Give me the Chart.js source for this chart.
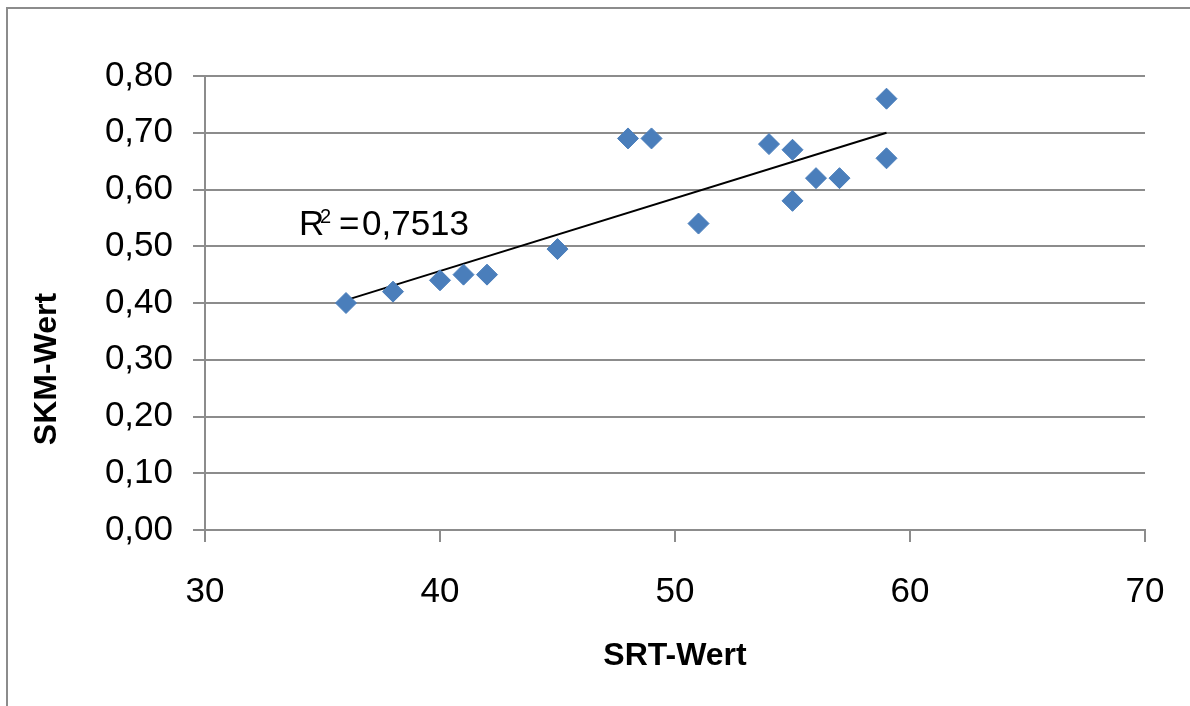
<!DOCTYPE html>
<html>
<head>
<meta charset="utf-8">
<title>SKM-Wert / SRT-Wert</title>
<script src="https://cdn.jsdelivr.net/npm/chart.js"></script>
<style>
    html, body {
        margin: 0;
        padding: 0;
        background: #fff;
        overflow: hidden;
    }
    .frame {
        position: absolute;
        left: 6px;
        top: 7px;
        width: 1400px;
        height: 900px;
        border: 2px solid #8c8c8c;
    }
    .chart-box {
        position: absolute;
        left: 0;
        top: 0;
        width: 1190px;
        height: 706px;
    }
</style>
</head>
<body>
<div class="frame"></div>
<div class="chart-box">
    <canvas id="scatterChart" width="1190" height="706"></canvas>
</div>
<script>
    // Messwerte
    const srtWerte = [36, 38, 40, 41, 42, 45, 48, 49, 51, 54, 55, 55, 56, 57, 59, 59];
    const skmWerte = [0.40, 0.42, 0.44, 0.45, 0.45, 0.495, 0.69, 0.69, 0.54, 0.68, 0.67, 0.58, 0.62, 0.62, 0.76, 0.655];

    // Trendlinie (Endpunkte aus dem Bild)
    const trendX = [36, 59];
    const trendY = [0.405, 0.70];

    // Achsen
    const xTicks = [30, 40, 50, 60, 70];
    const yTicks = [0, 0.1, 0.2, 0.3, 0.4, 0.5, 0.6, 0.7, 0.8];
    const rSquared = '0,7513';

    const gridGray = '#8c8c8c';
    const fontFamily = '"Liberation Sans", Arial, sans-serif';

    function formatComma(v) {
        return v.toFixed(2).replace('.', ',');
    }

    // Achsentitel und R² als Text
    const labelPlugin = {
        id: 'labels',
        afterDraw(chart) {
            const ctx = chart.ctx;
            const area = chart.chartArea;
            ctx.save();
            ctx.fillStyle = '#000';

            // x-Achsentitel
            ctx.font = 'bold 32px ' + fontFamily;
            ctx.textAlign = 'center';
            ctx.textBaseline = 'middle';
            ctx.fillText('SRT-Wert', (area.left + area.right) / 2, 656);

            // y-Achsentitel
            ctx.save();
            ctx.translate(47, 369);
            ctx.rotate(-Math.PI / 2);
            ctx.fillText('SKM-Wert', 0, 0);
            ctx.restore();

            // Bestimmtheitsmass
            ctx.textAlign = 'left';
            ctx.textBaseline = 'alphabetic';
            ctx.font = '35px ' + fontFamily;
            ctx.fillText('R', 299, 235);
            ctx.font = '20px ' + fontFamily;
            ctx.fillText('2', 320, 223);
            ctx.font = '35px ' + fontFamily;
            ctx.fillText('=', 339, 235);
            ctx.fillText(rSquared, 362, 235);
            ctx.restore();
        }
    };

    const points = srtWerte.map((x, i) => ({ x: x, y: skmWerte[i] }));
    const trend = trendX.map((x, i) => ({ x: x, y: trendY[i] }));

    const ctx = document.getElementById('scatterChart').getContext('2d');
    new Chart(ctx, {
        type: 'scatter',
        data: {
            datasets: [{
                label: 'Trend',
                data: trend,
                showLine: true,
                borderColor: '#000',
                borderWidth: 2,
                pointRadius: 0,
                fill: false,
                order: 2
            }, {
                label: 'SKM-Wert',
                data: points,
                pointStyle: 'rectRot',
                pointRadius: 10.5,
                pointBackgroundColor: '#4a7ebb',
                pointBorderColor: '#4a7ebb',
                pointBorderWidth: 1,
                order: 1
            }]
        },
        options: {
            responsive: false,
            animation: false,
            devicePixelRatio: 1,
            layout: {
                autoPadding: false,
                padding: { left: 0, top: 76, right: 45, bottom: 0 }
            },
            plugins: {
                legend: { display: false },
                tooltip: { enabled: false }
            },
            scales: {
                x: {
                    type: 'linear',
                    min: 30,
                    max: 70,
                    afterBuildTicks(scale) {
                        scale.ticks = xTicks.map(v => ({ value: v }));
                    },
                    afterFit(scale) {
                        scale.height = 176;
                        scale.paddingLeft = 0;
                        scale.paddingRight = 0;
                    },
                    grid: {
                        drawOnChartArea: false,
                        drawTicks: true,
                        tickLength: 12,
                        color: gridGray,
                        lineWidth: 2
                    },
                    border: { display: true, color: gridGray, width: 2 },
                    ticks: {
                        padding: 29,
                        color: '#000',
                        font: { family: fontFamily, size: 35 },
                        maxRotation: 0
                    }
                },
                y: {
                    type: 'linear',
                    min: 0,
                    max: 0.8,
                    afterBuildTicks(scale) {
                        scale.ticks = yTicks.map(v => ({ value: v }));
                    },
                    afterFit(scale) {
                        scale.width = 205;
                    },
                    grid: {
                        drawOnChartArea: true,
                        drawTicks: true,
                        tickLength: 12,
                        color: gridGray,
                        lineWidth: 2
                    },
                    border: { display: true, color: gridGray, width: 2 },
                    ticks: {
                        padding: 20,
                        color: '#000',
                        font: { family: fontFamily, size: 35 },
                        callback: v => formatComma(v)
                    }
                }
            }
        },
        plugins: [labelPlugin]
    });
</script>
</body>
</html>
